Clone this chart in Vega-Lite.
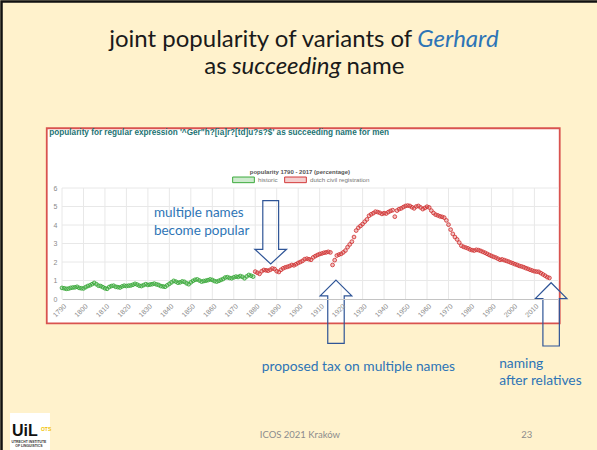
{
"$schema": "https://vega.github.io/schema/vega-lite/v6.json",
"width": 496, "height": 111,
"autosize": "none",
"padding": {"left": 62, "top": 188, "right": 39, "bottom": 151},
"background": "#FFF2CC",
"config": {"view": {"stroke": null}, "font": "Liberation Sans"},
"resolve": {"axis": {"x": "independent", "y": "independent"}},
"datasets": {
"one": [{}],
"gx": [{"year":1790},{"year":1800},{"year":1810},{"year":1820},{"year":1830},{"year":1840},{"year":1850},{"year":1860},{"year":1870},{"year":1880},{"year":1890},{"year":1900},{"year":1910},{"year":1920},{"year":1930},{"year":1940},{"year":1950},{"year":1960},{"year":1970},{"year":1980},{"year":1990},{"year":2000},{"year":2010}],
"gy": [{"v":1},{"v":2},{"v":3},{"v":4},{"v":5},{"v":6}],
"pop": [
{"year":1790,"value":0.60,"series":"historic"},{"year":1791,"value":0.58,"series":"historic"},{"year":1792,"value":0.55,"series":"historic"},{"year":1793,"value":0.56,"series":"historic"},{"year":1794,"value":0.60,"series":"historic"},{"year":1795,"value":0.62,"series":"historic"},{"year":1796,"value":0.63,"series":"historic"},{"year":1797,"value":0.66,"series":"historic"},{"year":1798,"value":0.60,"series":"historic"},{"year":1799,"value":0.58,"series":"historic"},
{"year":1800,"value":0.57,"series":"historic"},{"year":1801,"value":0.64,"series":"historic"},{"year":1802,"value":0.70,"series":"historic"},{"year":1803,"value":0.74,"series":"historic"},{"year":1804,"value":0.80,"series":"historic"},{"year":1805,"value":0.87,"series":"historic"},{"year":1806,"value":0.80,"series":"historic"},{"year":1807,"value":0.72,"series":"historic"},{"year":1808,"value":0.70,"series":"historic"},{"year":1809,"value":0.64,"series":"historic"},
{"year":1810,"value":0.58,"series":"historic"},{"year":1811,"value":0.55,"series":"historic"},{"year":1812,"value":0.65,"series":"historic"},{"year":1813,"value":0.70,"series":"historic"},{"year":1814,"value":0.72,"series":"historic"},{"year":1815,"value":0.66,"series":"historic"},{"year":1816,"value":0.64,"series":"historic"},{"year":1817,"value":0.62,"series":"historic"},{"year":1818,"value":0.68,"series":"historic"},{"year":1819,"value":0.72,"series":"historic"},
{"year":1820,"value":0.70,"series":"historic"},{"year":1821,"value":0.72,"series":"historic"},{"year":1822,"value":0.73,"series":"historic"},{"year":1823,"value":0.77,"series":"historic"},{"year":1824,"value":0.82,"series":"historic"},{"year":1825,"value":0.78,"series":"historic"},{"year":1826,"value":0.72,"series":"historic"},{"year":1827,"value":0.70,"series":"historic"},{"year":1828,"value":0.75,"series":"historic"},{"year":1829,"value":0.80,"series":"historic"},
{"year":1830,"value":0.76,"series":"historic"},{"year":1831,"value":0.78,"series":"historic"},{"year":1832,"value":0.80,"series":"historic"},{"year":1833,"value":0.83,"series":"historic"},{"year":1834,"value":0.79,"series":"historic"},{"year":1835,"value":0.76,"series":"historic"},{"year":1836,"value":0.70,"series":"historic"},{"year":1837,"value":0.68,"series":"historic"},{"year":1838,"value":0.66,"series":"historic"},{"year":1839,"value":0.74,"series":"historic"},
{"year":1840,"value":0.82,"series":"historic"},{"year":1841,"value":0.90,"series":"historic"},{"year":1842,"value":0.98,"series":"historic"},{"year":1843,"value":0.94,"series":"historic"},{"year":1844,"value":0.88,"series":"historic"},{"year":1845,"value":0.90,"series":"historic"},{"year":1846,"value":0.95,"series":"historic"},{"year":1847,"value":0.93,"series":"historic"},{"year":1848,"value":0.85,"series":"historic"},{"year":1849,"value":0.80,"series":"historic"},
{"year":1850,"value":0.90,"series":"historic"},{"year":1851,"value":0.98,"series":"historic"},{"year":1852,"value":1.04,"series":"historic"},{"year":1853,"value":1.06,"series":"historic"},{"year":1854,"value":1.00,"series":"historic"},{"year":1855,"value":0.94,"series":"historic"},{"year":1856,"value":0.97,"series":"historic"},{"year":1857,"value":0.99,"series":"historic"},{"year":1858,"value":1.02,"series":"historic"},{"year":1859,"value":1.06,"series":"historic"},
{"year":1860,"value":1.03,"series":"historic"},{"year":1861,"value":0.97,"series":"historic"},{"year":1862,"value":0.94,"series":"historic"},{"year":1863,"value":0.98,"series":"historic"},{"year":1864,"value":1.03,"series":"historic"},{"year":1865,"value":1.08,"series":"historic"},{"year":1866,"value":1.16,"series":"historic"},{"year":1867,"value":1.18,"series":"historic"},{"year":1868,"value":1.14,"series":"historic"},{"year":1869,"value":1.12,"series":"historic"},
{"year":1870,"value":1.17,"series":"historic"},{"year":1871,"value":1.21,"series":"historic"},{"year":1872,"value":1.19,"series":"historic"},{"year":1873,"value":1.24,"series":"historic"},{"year":1874,"value":1.20,"series":"historic"},{"year":1875,"value":1.12,"series":"historic"},{"year":1876,"value":1.22,"series":"historic"},{"year":1877,"value":1.30,"series":"historic"},{"year":1878,"value":1.26,"series":"historic"},{"year":1879,"value":1.21,"series":"historic"},
{"year":1880,"value":1.48,"series":"dutch civil registration"},{"year":1881,"value":1.42,"series":"dutch civil registration"},{"year":1882,"value":1.36,"series":"dutch civil registration"},{"year":1883,"value":1.50,"series":"dutch civil registration"},{"year":1884,"value":1.57,"series":"dutch civil registration"},{"year":1885,"value":1.55,"series":"dutch civil registration"},{"year":1886,"value":1.53,"series":"dutch civil registration"},{"year":1887,"value":1.58,"series":"dutch civil registration"},{"year":1888,"value":1.65,"series":"dutch civil registration"},{"year":1889,"value":1.62,"series":"dutch civil registration"},
{"year":1890,"value":1.50,"series":"dutch civil registration"},{"year":1891,"value":1.46,"series":"dutch civil registration"},{"year":1892,"value":1.58,"series":"dutch civil registration"},{"year":1893,"value":1.66,"series":"dutch civil registration"},{"year":1894,"value":1.71,"series":"dutch civil registration"},{"year":1895,"value":1.74,"series":"dutch civil registration"},{"year":1896,"value":1.78,"series":"dutch civil registration"},{"year":1897,"value":1.84,"series":"dutch civil registration"},{"year":1898,"value":1.82,"series":"dutch civil registration"},{"year":1899,"value":1.88,"series":"dutch civil registration"},
{"year":1900,"value":1.95,"series":"dutch civil registration"},{"year":1901,"value":2.00,"series":"dutch civil registration"},{"year":1902,"value":2.06,"series":"dutch civil registration"},{"year":1903,"value":2.15,"series":"dutch civil registration"},{"year":1904,"value":2.18,"series":"dutch civil registration"},{"year":1905,"value":2.15,"series":"dutch civil registration"},{"year":1906,"value":2.12,"series":"dutch civil registration"},{"year":1907,"value":2.25,"series":"dutch civil registration"},{"year":1908,"value":2.32,"series":"dutch civil registration"},{"year":1909,"value":2.38,"series":"dutch civil registration"},
{"year":1910,"value":2.43,"series":"dutch civil registration"},{"year":1911,"value":2.46,"series":"dutch civil registration"},{"year":1912,"value":2.50,"series":"dutch civil registration"},{"year":1913,"value":2.52,"series":"dutch civil registration"},{"year":1914,"value":2.55,"series":"dutch civil registration"},{"year":1915,"value":2.52,"series":"dutch civil registration"},{"year":1916,"value":1.84,"series":"dutch civil registration"},{"year":1917,"value":2.10,"series":"dutch civil registration"},{"year":1918,"value":2.35,"series":"dutch civil registration"},{"year":1919,"value":2.40,"series":"dutch civil registration"},
{"year":1920,"value":2.44,"series":"dutch civil registration"},{"year":1921,"value":2.52,"series":"dutch civil registration"},{"year":1922,"value":2.62,"series":"dutch civil registration"},{"year":1923,"value":2.80,"series":"dutch civil registration"},{"year":1924,"value":2.95,"series":"dutch civil registration"},{"year":1925,"value":3.10,"series":"dutch civil registration"},{"year":1926,"value":3.35,"series":"dutch civil registration"},{"year":1927,"value":3.70,"series":"dutch civil registration"},{"year":1928,"value":3.85,"series":"dutch civil registration"},{"year":1929,"value":3.95,"series":"dutch civil registration"},
{"year":1930,"value":4.05,"series":"dutch civil registration"},{"year":1931,"value":4.18,"series":"dutch civil registration"},{"year":1932,"value":4.30,"series":"dutch civil registration"},{"year":1933,"value":4.50,"series":"dutch civil registration"},{"year":1934,"value":4.58,"series":"dutch civil registration"},{"year":1935,"value":4.64,"series":"dutch civil registration"},{"year":1936,"value":4.72,"series":"dutch civil registration"},{"year":1937,"value":4.70,"series":"dutch civil registration"},{"year":1938,"value":4.66,"series":"dutch civil registration"},{"year":1939,"value":4.60,"series":"dutch civil registration"},
{"year":1940,"value":4.64,"series":"dutch civil registration"},{"year":1941,"value":4.62,"series":"dutch civil registration"},{"year":1942,"value":4.70,"series":"dutch civil registration"},{"year":1943,"value":4.76,"series":"dutch civil registration"},{"year":1944,"value":4.80,"series":"dutch civil registration"},{"year":1945,"value":4.45,"series":"dutch civil registration"},{"year":1946,"value":4.78,"series":"dutch civil registration"},{"year":1947,"value":4.86,"series":"dutch civil registration"},{"year":1948,"value":4.90,"series":"dutch civil registration"},{"year":1949,"value":4.97,"series":"dutch civil registration"},
{"year":1950,"value":5.03,"series":"dutch civil registration"},{"year":1951,"value":5.05,"series":"dutch civil registration"},{"year":1952,"value":5.03,"series":"dutch civil registration"},{"year":1953,"value":4.96,"series":"dutch civil registration"},{"year":1954,"value":4.90,"series":"dutch civil registration"},{"year":1955,"value":5.00,"series":"dutch civil registration"},{"year":1956,"value":5.03,"series":"dutch civil registration"},{"year":1957,"value":4.95,"series":"dutch civil registration"},{"year":1958,"value":4.86,"series":"dutch civil registration"},{"year":1959,"value":4.92,"series":"dutch civil registration"},
{"year":1960,"value":4.99,"series":"dutch civil registration"},{"year":1961,"value":4.95,"series":"dutch civil registration"},{"year":1962,"value":4.78,"series":"dutch civil registration"},{"year":1963,"value":4.65,"series":"dutch civil registration"},{"year":1964,"value":4.56,"series":"dutch civil registration"},{"year":1965,"value":4.52,"series":"dutch civil registration"},{"year":1966,"value":4.47,"series":"dutch civil registration"},{"year":1967,"value":4.44,"series":"dutch civil registration"},{"year":1968,"value":4.40,"series":"dutch civil registration"},{"year":1969,"value":4.25,"series":"dutch civil registration"},
{"year":1970,"value":4.02,"series":"dutch civil registration"},{"year":1971,"value":3.75,"series":"dutch civil registration"},{"year":1972,"value":3.52,"series":"dutch civil registration"},{"year":1973,"value":3.35,"series":"dutch civil registration"},{"year":1974,"value":3.22,"series":"dutch civil registration"},{"year":1975,"value":3.05,"series":"dutch civil registration"},{"year":1976,"value":2.88,"series":"dutch civil registration"},{"year":1977,"value":2.82,"series":"dutch civil registration"},{"year":1978,"value":2.78,"series":"dutch civil registration"},{"year":1979,"value":2.74,"series":"dutch civil registration"},
{"year":1980,"value":2.68,"series":"dutch civil registration"},{"year":1981,"value":2.64,"series":"dutch civil registration"},{"year":1982,"value":2.62,"series":"dutch civil registration"},{"year":1983,"value":2.66,"series":"dutch civil registration"},{"year":1984,"value":2.64,"series":"dutch civil registration"},{"year":1985,"value":2.60,"series":"dutch civil registration"},{"year":1986,"value":2.55,"series":"dutch civil registration"},{"year":1987,"value":2.50,"series":"dutch civil registration"},{"year":1988,"value":2.44,"series":"dutch civil registration"},{"year":1989,"value":2.38,"series":"dutch civil registration"},
{"year":1990,"value":2.33,"series":"dutch civil registration"},{"year":1991,"value":2.28,"series":"dutch civil registration"},{"year":1992,"value":2.24,"series":"dutch civil registration"},{"year":1993,"value":2.18,"series":"dutch civil registration"},{"year":1994,"value":2.12,"series":"dutch civil registration"},{"year":1995,"value":2.14,"series":"dutch civil registration"},{"year":1996,"value":2.10,"series":"dutch civil registration"},{"year":1997,"value":2.06,"series":"dutch civil registration"},{"year":1998,"value":2.02,"series":"dutch civil registration"},{"year":1999,"value":1.97,"series":"dutch civil registration"},
{"year":2000,"value":1.93,"series":"dutch civil registration"},{"year":2001,"value":1.88,"series":"dutch civil registration"},{"year":2002,"value":1.84,"series":"dutch civil registration"},{"year":2003,"value":1.79,"series":"dutch civil registration"},{"year":2004,"value":1.76,"series":"dutch civil registration"},{"year":2005,"value":1.72,"series":"dutch civil registration"},{"year":2006,"value":1.67,"series":"dutch civil registration"},{"year":2007,"value":1.63,"series":"dutch civil registration"},{"year":2008,"value":1.58,"series":"dutch civil registration"},{"year":2009,"value":1.54,"series":"dutch civil registration"},
{"year":2010,"value":1.50,"series":"dutch civil registration"},{"year":2011,"value":1.48,"series":"dutch civil registration"},{"year":2012,"value":1.47,"series":"dutch civil registration"},{"year":2013,"value":1.40,"series":"dutch civil registration"},{"year":2014,"value":1.33,"series":"dutch civil registration"},{"year":2015,"value":1.26,"series":"dutch civil registration"},{"year":2016,"value":1.18,"series":"dutch civil registration"},{"year":2017,"value":1.14,"series":"dutch civil registration"}
]
},
"layer": [
{"data": {"name": "one"}, "mark": {"type": "rect", "fill": "white", "stroke": "#D9534F", "strokeWidth": 1.8},
 "encoding": {
  "x": {"datum": 1782.9, "type": "quantitative", "scale": {"domain": [1790, 2021], "nice": false, "zero": false}, "axis": null},
  "x2": {"datum": 2021.8},
  "y": {"datum": 9.23, "type": "quantitative", "scale": {"domain": [0, 6], "nice": false}, "axis": null},
  "y2": {"datum": -1.32}}},
{"data": {"name": "gx"}, "mark": {"type": "rule", "color": "#e8e8e8", "strokeWidth": 1},
 "encoding": {
  "x": {"field": "year", "type": "quantitative", "scale": {"domain": [1790, 2021], "nice": false, "zero": false}, "axis": null},
  "y": {"datum": 0, "type": "quantitative", "scale": {"domain": [0, 6], "nice": false}, "axis": null},
  "y2": {"datum": 6}}},
{"data": {"name": "gy"}, "mark": {"type": "rule", "color": "#e8e8e8", "strokeWidth": 1},
 "encoding": {
  "y": {"field": "v", "type": "quantitative", "scale": {"domain": [0, 6], "nice": false}, "axis": null},
  "x": {"datum": 1790, "type": "quantitative", "scale": {"domain": [1790, 2021], "nice": false, "zero": false}, "axis": null},
  "x2": {"datum": 2021}}},
{"data": {"name": "pop"}, "mark": {"type": "point", "filled": true, "size": 14, "fillOpacity": 0.3, "strokeWidth": 0.9, "strokeOpacity": 1},
 "encoding": {
  "x": {"field": "year", "type": "quantitative", "scale": {"domain": [1790, 2021], "nice": false, "zero": false},
        "axis": {"values": [1790,1800,1810,1820,1830,1840,1850,1860,1870,1880,1890,1900,1910,1920,1930,1940,1950,1960,1970,1980,1990,2000,2010], "format": "d", "labelAngle": -45, "labelOverlap": false, "labelFlush": false, "labelBound": false, "grid": false, "ticks": false, "domain": true, "domainColor": "#c4c4c4", "domainWidth": 1, "labelFontSize": 7, "labelColor": "#8a8a8a", "labelPadding": 3, "title": null, "zindex": 1}},
  "y": {"field": "value", "type": "quantitative", "scale": {"domain": [0, 6], "nice": false},
        "axis": {"values": [0,1,2,3,4,5,6], "labelOverlap": false, "labelFlush": false, "labelBound": false, "grid": false, "ticks": false, "domain": false, "labelFontSize": 7, "labelColor": "#8a8a8a", "labelPadding": 5, "title": null, "zindex": 1}},
  "fill": {"field": "series", "type": "nominal", "scale": {"domain": ["historic", "dutch civil registration"], "range": ["#3DAA3D", "#D23A3A"]},
           "legend": {"orient": "none", "legendX": 170, "legendY": -20, "direction": "horizontal", "title": null, "symbolType": "M-1,-0.26H1V0.26H-1Z", "symbolSize": 471, "labelFontSize": 6.2, "labelColor": "#777777", "labelOffset": 3, "columnPadding": 4, "symbolStrokeWidth": 1, "padding": 0, "encode": {"symbols": {"update": {"fillOpacity": {"value": 0.25}}}}}},
  "stroke": {"field": "series", "type": "nominal", "scale": {"domain": ["historic", "dutch civil registration"], "range": ["#3DAA3D", "#D23A3A"]},
           "legend": {"orient": "none", "legendX": 170, "legendY": -20, "direction": "horizontal", "title": null, "symbolType": "M-1,-0.26H1V0.26H-1Z", "symbolSize": 471, "labelFontSize": 6.2, "labelColor": "#777777", "labelOffset": 3, "columnPadding": 4, "symbolStrokeWidth": 1, "padding": 0, "encode": {"symbols": {"update": {"fillOpacity": {"value": 0.25}}}}}}
 }},
{"data": {"name": "one"}, "mark": {"type": "text", "text": "popularity for regular expression '^Ger\"h?[ia]r?[td]u?s?$' as succeeding name for men", "align": "left", "baseline": "alphabetic", "fontSize": 8.2, "fontWeight": "bold", "color": "#1D7373"},
 "encoding": {"x": {"datum": 1784.1, "type": "quantitative", "scale": {"domain": [1790, 2021], "nice": false, "zero": false}, "axis": null},
              "y": {"datum": 8.84, "type": "quantitative", "scale": {"domain": [0, 6], "nice": false}, "axis": null}}},
{"data": {"name": "one"}, "mark": {"type": "text", "text": "popularity 1790 - 2017 (percentage)", "align": "center", "baseline": "middle", "fontSize": 6, "fontWeight": "bold", "color": "#555555"},
 "encoding": {"x": {"datum": 1900.8, "type": "quantitative", "scale": {"domain": [1790, 2021], "nice": false, "zero": false}, "axis": null},
              "y": {"datum": 6.89, "type": "quantitative", "scale": {"domain": [0, 6], "nice": false}, "axis": null}}},
{"data": {"name": "one"}, "mark": {"type": "text", "text": "joint popularity of variants of", "align": "right", "baseline": "alphabetic", "fontSize": 24, "font": "Lato", "color": "#1a1a1a", "dx": -2.5},
 "encoding": {"x": {"datum": 1954.3, "type": "quantitative", "scale": {"domain": [1790, 2021], "nice": false, "zero": false}, "axis": null},
              "y": {"datum": 13.64, "type": "quantitative", "scale": {"domain": [0, 6], "nice": false}, "axis": null}}},
{"data": {"name": "one"}, "mark": {"type": "text", "text": "Gerhard", "align": "left", "baseline": "alphabetic", "fontSize": 24, "font": "Lato", "fontStyle": "italic", "color": "#2E75B6", "dx": 2.5},
 "encoding": {"x": {"datum": 1954.3, "type": "quantitative", "scale": {"domain": [1790, 2021], "nice": false, "zero": false}, "axis": null},
              "y": {"datum": 13.64, "type": "quantitative", "scale": {"domain": [0, 6], "nice": false}, "axis": null}}},
{"data": {"name": "one"}, "mark": {"type": "text", "text": "as", "align": "right", "baseline": "alphabetic", "fontSize": 24, "font": "Lato", "color": "#1a1a1a", "dx": -60},
 "encoding": {"x": {"datum": 1894.6, "type": "quantitative", "scale": {"domain": [1790, 2021], "nice": false, "zero": false}, "axis": null},
              "y": {"datum": 12.16, "type": "quantitative", "scale": {"domain": [0, 6], "nice": false}, "axis": null}}},
{"data": {"name": "one"}, "mark": {"type": "text", "text": "succeeding", "align": "center", "baseline": "alphabetic", "fontSize": 24, "font": "Lato", "fontStyle": "italic", "color": "#1a1a1a"},
 "encoding": {"x": {"datum": 1894.6, "type": "quantitative", "scale": {"domain": [1790, 2021], "nice": false, "zero": false}, "axis": null},
              "y": {"datum": 12.16, "type": "quantitative", "scale": {"domain": [0, 6], "nice": false}, "axis": null}}},
{"data": {"name": "one"}, "mark": {"type": "text", "text": "name", "align": "left", "baseline": "alphabetic", "fontSize": 24, "font": "Lato", "color": "#1a1a1a", "dx": 60},
 "encoding": {"x": {"datum": 1894.6, "type": "quantitative", "scale": {"domain": [1790, 2021], "nice": false, "zero": false}, "axis": null},
              "y": {"datum": 12.16, "type": "quantitative", "scale": {"domain": [0, 6], "nice": false}, "axis": null}}},
{"data": {"name": "one"}, "mark": {"type": "text", "text": ["multiple names", "become popular"], "lineHeight": 17.7, "align": "left", "baseline": "alphabetic", "fontSize": 13.5, "font": "Lato", "color": "#2E75B6"},
 "encoding": {"x": {"datum": 1832.8, "type": "quantitative", "scale": {"domain": [1790, 2021], "nice": false, "zero": false}, "axis": null},
              "y": {"datum": 4.42, "type": "quantitative", "scale": {"domain": [0, 6], "nice": false}, "axis": null}}},
{"data": {"name": "one"}, "mark": {"type": "text", "text": "proposed tax on multiple names", "align": "left", "baseline": "alphabetic", "fontSize": 13.8, "font": "Lato", "color": "#2E75B6"},
 "encoding": {"x": {"datum": 1883.0, "type": "quantitative", "scale": {"domain": [1790, 2021], "nice": false, "zero": false}, "axis": null},
              "y": {"datum": -3.89, "type": "quantitative", "scale": {"domain": [0, 6], "nice": false}, "axis": null}}},
{"data": {"name": "one"}, "mark": {"type": "text", "text": ["naming", "after relatives"], "lineHeight": 17.3, "align": "left", "baseline": "alphabetic", "fontSize": 13.8, "font": "Lato", "color": "#2E75B6"},
 "encoding": {"x": {"datum": 1993.6, "type": "quantitative", "scale": {"domain": [1790, 2021], "nice": false, "zero": false}, "axis": null},
              "y": {"datum": -3.71, "type": "quantitative", "scale": {"domain": [0, 6], "nice": false}, "axis": null}}},
{"data": {"name": "one"}, "mark": {"type": "point", "shape": "M-0.25,-1L0.25,-1L0.25,0.54L0.5,0.54L0,1L-0.5,0.54L-0.25,0.54Z", "size": 4007, "filled": false, "color": "#2F5597", "strokeWidth": 1.2, "opacity": 1},
 "encoding": {"x": {"datum": 1887.2, "type": "quantitative", "scale": {"domain": [1790, 2021], "nice": false, "zero": false}, "axis": null},
              "y": {"datum": 3.61, "type": "quantitative", "scale": {"domain": [0, 6], "nice": false}, "axis": null}}},
{"data": {"name": "one"}, "mark": {"type": "point", "shape": "M0,-1L0.5,-0.5L0.26,-0.5L0.26,1L-0.26,1L-0.26,-0.5L-0.5,-0.5Z", "size": 4007, "filled": false, "color": "#2F5597", "strokeWidth": 1.2, "opacity": 1},
 "encoding": {"x": {"datum": 1917.6, "type": "quantitative", "scale": {"domain": [1790, 2021], "nice": false, "zero": false}, "axis": null},
              "y": {"datum": -0.69, "type": "quantitative", "scale": {"domain": [0, 6], "nice": false}, "axis": null}}},
{"data": {"name": "one"}, "mark": {"type": "point", "shape": "M0,-1L0.5,-0.5L0.26,-0.5L0.26,1L-0.26,1L-0.26,-0.5L-0.5,-0.5Z", "size": 4007, "filled": false, "color": "#2F5597", "strokeWidth": 1.2, "opacity": 1},
 "encoding": {"x": {"datum": 2017.8, "type": "quantitative", "scale": {"domain": [1790, 2021], "nice": false, "zero": false}, "axis": null},
              "y": {"datum": -0.83, "type": "quantitative", "scale": {"domain": [0, 6], "nice": false}, "axis": null}}},
{"data": {"name": "one"}, "mark": {"type": "text", "text": "ICOS 2021 Kraków", "align": "center", "baseline": "alphabetic", "fontSize": 9.5, "font": "Lato", "color": "#8C8C8C"},
 "encoding": {"x": {"datum": 1900.8, "type": "quantitative", "scale": {"domain": [1790, 2021], "nice": false, "zero": false}, "axis": null},
              "y": {"datum": -7.49, "type": "quantitative", "scale": {"domain": [0, 6], "nice": false}, "axis": null}}},
{"data": {"name": "one"}, "mark": {"type": "text", "text": "23", "align": "center", "baseline": "alphabetic", "fontSize": 9.5, "font": "Lato", "color": "#8C8C8C"},
 "encoding": {"x": {"datum": 2006.5, "type": "quantitative", "scale": {"domain": [1790, 2021], "nice": false, "zero": false}, "axis": null},
              "y": {"datum": -7.49, "type": "quantitative", "scale": {"domain": [0, 6], "nice": false}, "axis": null}}},
{"data": {"name": "one"}, "mark": {"type": "rect", "fill": "white"},
 "encoding": {"x": {"datum": 1765.8, "type": "quantitative", "scale": {"domain": [1790, 2021], "nice": false, "zero": false}, "axis": null},
              "x2": {"datum": 1784.4},
              "y": {"datum": -6.16, "type": "quantitative", "scale": {"domain": [0, 6], "nice": false}, "axis": null},
              "y2": {"datum": -8.3}}},
{"data": {"name": "one"}, "mark": {"type": "text", "text": "UiL", "align": "left", "baseline": "alphabetic", "fontSize": 16, "fontWeight": "bold", "color": "#111111", "font": "Liberation Sans"},
 "encoding": {"x": {"datum": 1766.7, "type": "quantitative", "scale": {"domain": [1790, 2021], "nice": false, "zero": false}, "axis": null},
              "y": {"datum": -7.41, "type": "quantitative", "scale": {"domain": [0, 6], "nice": false}, "axis": null}}},
{"data": {"name": "one"}, "mark": {"type": "text", "text": "OTS", "align": "left", "baseline": "alphabetic", "fontSize": 5, "fontWeight": "bold", "color": "#F2C200"},
 "encoding": {"x": {"datum": 1780.2, "type": "quantitative", "scale": {"domain": [1790, 2021], "nice": false, "zero": false}, "axis": null},
              "y": {"datum": -7.14, "type": "quantitative", "scale": {"domain": [0, 6], "nice": false}, "axis": null}}},
{"data": {"name": "one"}, "mark": {"type": "text", "text": ["UTRECHT INSTITUTE", "OF LINGUISTICS"], "lineHeight": 4.5, "align": "center", "baseline": "alphabetic", "fontSize": 3.4, "fontWeight": "bold", "color": "#333333"},
 "encoding": {"x": {"datum": 1774.6, "type": "quantitative", "scale": {"domain": [1790, 2021], "nice": false, "zero": false}, "axis": null},
              "y": {"datum": -7.78, "type": "quantitative", "scale": {"domain": [0, 6], "nice": false}, "axis": null}}},
{"data": {"name": "one"}, "mark": {"type": "rect", "fillOpacity": 0, "stroke": "#111111", "strokeWidth": 2.5},
 "encoding": {"x": {"datum": 1761.83, "type": "quantitative", "scale": {"domain": [1790, 2021], "nice": false, "zero": false}, "axis": null},
              "x2": {"datum": 2059.1},
              "y": {"datum": 16.08, "type": "quantitative", "scale": {"domain": [0, 6], "nice": false}, "axis": null},
              "y2": {"datum": -9.24}}}
]
}
